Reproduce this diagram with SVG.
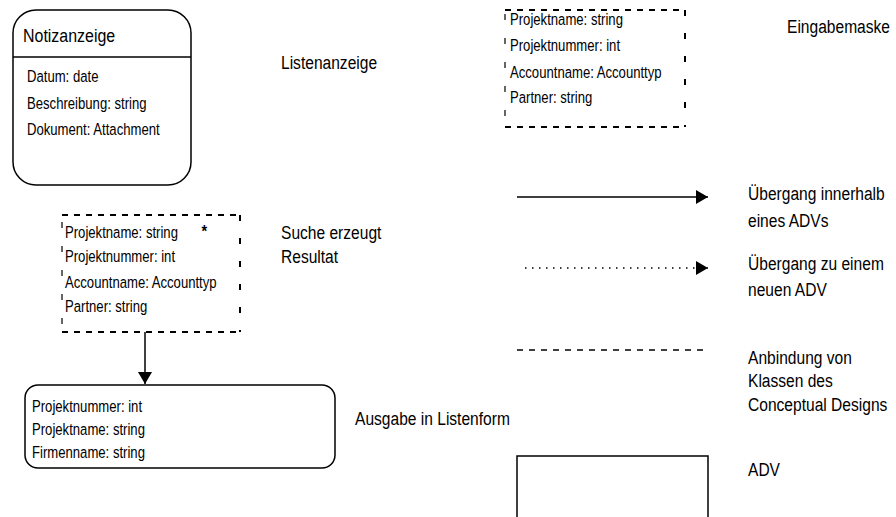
<svg xmlns="http://www.w3.org/2000/svg" width="896" height="517" viewBox="0 0 896 517">
  <style>
    text { font-family: "Liberation Sans", Arial, Helvetica, sans-serif; fill: #000; }
    .attr { font-size: 17px; }
    .lbl { font-size: 19px; }
    .title { font-size: 19px; }
    .box { fill: #fff; stroke: #000; stroke-width: 1.5; }
    .dashH { stroke: #000; stroke-width: 2; stroke-dasharray: 6 6; fill: none; }
    .dashV { stroke: #000; stroke-width: 2; stroke-dasharray: 6 17; fill: none; }
    .dashL { stroke: #000; stroke-width: 1.2; stroke-dasharray: 6 18; fill: none; }
    .edge { stroke: #000; stroke-width: 1.5; fill: none; }
  </style>
  <defs>
    <marker id="arrow" viewBox="0 0 12 14" refX="12" refY="7" markerWidth="12" markerHeight="14" markerUnits="userSpaceOnUse" orient="auto">
      <path d="M0,0 L12,7 L0,14 Z" fill="#000"/>
    </marker>
    <clipPath id="clipAusgabe">
      <rect x="20" y="380" width="320" height="81"/>
    </clipPath>
  </defs>

  <rect width="896" height="517" fill="#fff"/>

  <!-- Notizanzeige: rounded ADV with title compartment -->
  <g id="notizanzeige">
    <rect class="box" x="13" y="10" width="178" height="175" rx="23" ry="23"/>
    <line class="edge" x1="13" y1="57" x2="191" y2="57"/>
    <text class="title" transform="translate(23,42) scale(0.84,1)">Notizanzeige</text>
    <text class="attr" transform="translate(27,82) scale(0.772,1)">Datum: date</text>
    <text class="attr" transform="translate(27,109) scale(0.772,1)">Beschreibung: string</text>
    <text class="attr" transform="translate(27,135) scale(0.772,1)">Dokument: Attachment</text>
  </g>

  <g id="label-listenanzeige">
    <text class="lbl" transform="translate(281,69) scale(0.82,1)">Listenanzeige</text>
  </g>

  <!-- Eingabemaske: conceptual design class (dashed) -->
  <g id="eingabe-klasse">
    <line class="dashH" x1="505" y1="10" x2="685" y2="10"/>
    <line class="dashH" x1="505" y1="127" x2="685" y2="127"/>
    <line class="dashV" x1="685" y1="10" x2="685" y2="127"/>
    <line class="dashL" x1="505" y1="14" x2="505" y2="127"/>
    <text class="attr" transform="translate(510,25) scale(0.772,1)">Projektname: string</text>
    <text class="attr" transform="translate(510,51) scale(0.772,1)">Projektnummer: int</text>
    <text class="attr" transform="translate(510,78) scale(0.772,1)">Accountname: Accounttyp</text>
    <text class="attr" transform="translate(510,103) scale(0.772,1)">Partner: string</text>
  </g>

  <g id="label-eingabemaske">
    <text class="lbl" transform="translate(787,33) scale(0.82,1)">Eingabemaske</text>
  </g>

  <!-- Suche: conceptual design class (dashed) with multiplicity -->
  <g id="suche-klasse">
    <line class="dashH" x1="62" y1="215" x2="240" y2="215"/>
    <line class="dashH" x1="62" y1="332" x2="240" y2="332"/>
    <line class="dashV" x1="240" y1="215" x2="240" y2="332"/>
    <line class="dashL" x1="62" y1="222" x2="62" y2="332"/>
    <text class="attr" transform="translate(65,238) scale(0.772,1)">Projektname: string</text>
    <text class="attr" transform="translate(65,262) scale(0.772,1)">Projektnummer: int</text>
    <text class="attr" transform="translate(65,288) scale(0.772,1)">Accountname: Accounttyp</text>
    <text class="attr" transform="translate(65,312) scale(0.772,1)">Partner: string</text>
    <text class="attr" font-weight="bold" transform="translate(201.5,237) scale(0.85,1)">*</text>
  </g>

  <g id="label-suche">
    <text class="lbl" transform="translate(281,239) scale(0.82,1)">Suche erzeugt</text>
    <text class="lbl" transform="translate(281,263) scale(0.82,1)">Resultat</text>
  </g>

  <!-- Ausgabe: rounded ADV listing -->
  <g id="ausgabe">
    <rect class="box" x="25" y="385" width="310" height="83" rx="13" ry="13"/>
    <text class="attr" transform="translate(32,412) scale(0.772,1)">Projektnummer: int</text>
    <text class="attr" transform="translate(32,435) scale(0.772,1)">Projektname: string</text>
    <g clip-path="url(#clipAusgabe)">
      <text class="attr" transform="translate(32,458) scale(0.772,1)">Firmenname: string</text>
    </g>
  </g>

  <g id="label-ausgabe">
    <text class="lbl" transform="translate(355,425) scale(0.82,1)">Ausgabe in Listenform</text>
  </g>

  <!-- Connectors -->
  <g id="connectors">
    <line class="edge" x1="145" y1="332" x2="145" y2="384" marker-end="url(#arrow)"/>
  </g>

  <!-- Legend -->
  <g id="legend-innerhalb">
    <line class="edge" x1="517" y1="197" x2="708" y2="197" marker-end="url(#arrow)"/>
    <text class="lbl" transform="translate(748,200) scale(0.82,1)">Übergang innerhalb</text>
    <text class="lbl" transform="translate(748,227) scale(0.82,1)">eines ADVs</text>
  </g>
  <g id="legend-neu">
    <line x1="525" y1="268" x2="708" y2="268" stroke="#000" stroke-width="1.5" stroke-dasharray="1.5 5.5" marker-end="url(#arrow)"/>
    <text class="lbl" transform="translate(748,270) scale(0.82,1)">Übergang zu einem</text>
    <text class="lbl" transform="translate(748,296) scale(0.82,1)">neuen ADV</text>
  </g>
  <g id="legend-anbindung">
    <line x1="517" y1="350" x2="708" y2="350" stroke="#000" stroke-width="1.5" stroke-dasharray="6 6"/>
    <text class="lbl" transform="translate(748,364) scale(0.82,1)">Anbindung von</text>
    <text class="lbl" transform="translate(748,387) scale(0.82,1)">Klassen des</text>
    <text class="lbl" transform="translate(748,411) scale(0.82,1)">Conceptual Designs</text>
  </g>
  <g id="legend-adv">
    <rect class="box" x="517" y="456" width="191" height="80"/>
    <text class="lbl" transform="translate(748,476) scale(0.82,1)">ADV</text>
  </g>
</svg>
